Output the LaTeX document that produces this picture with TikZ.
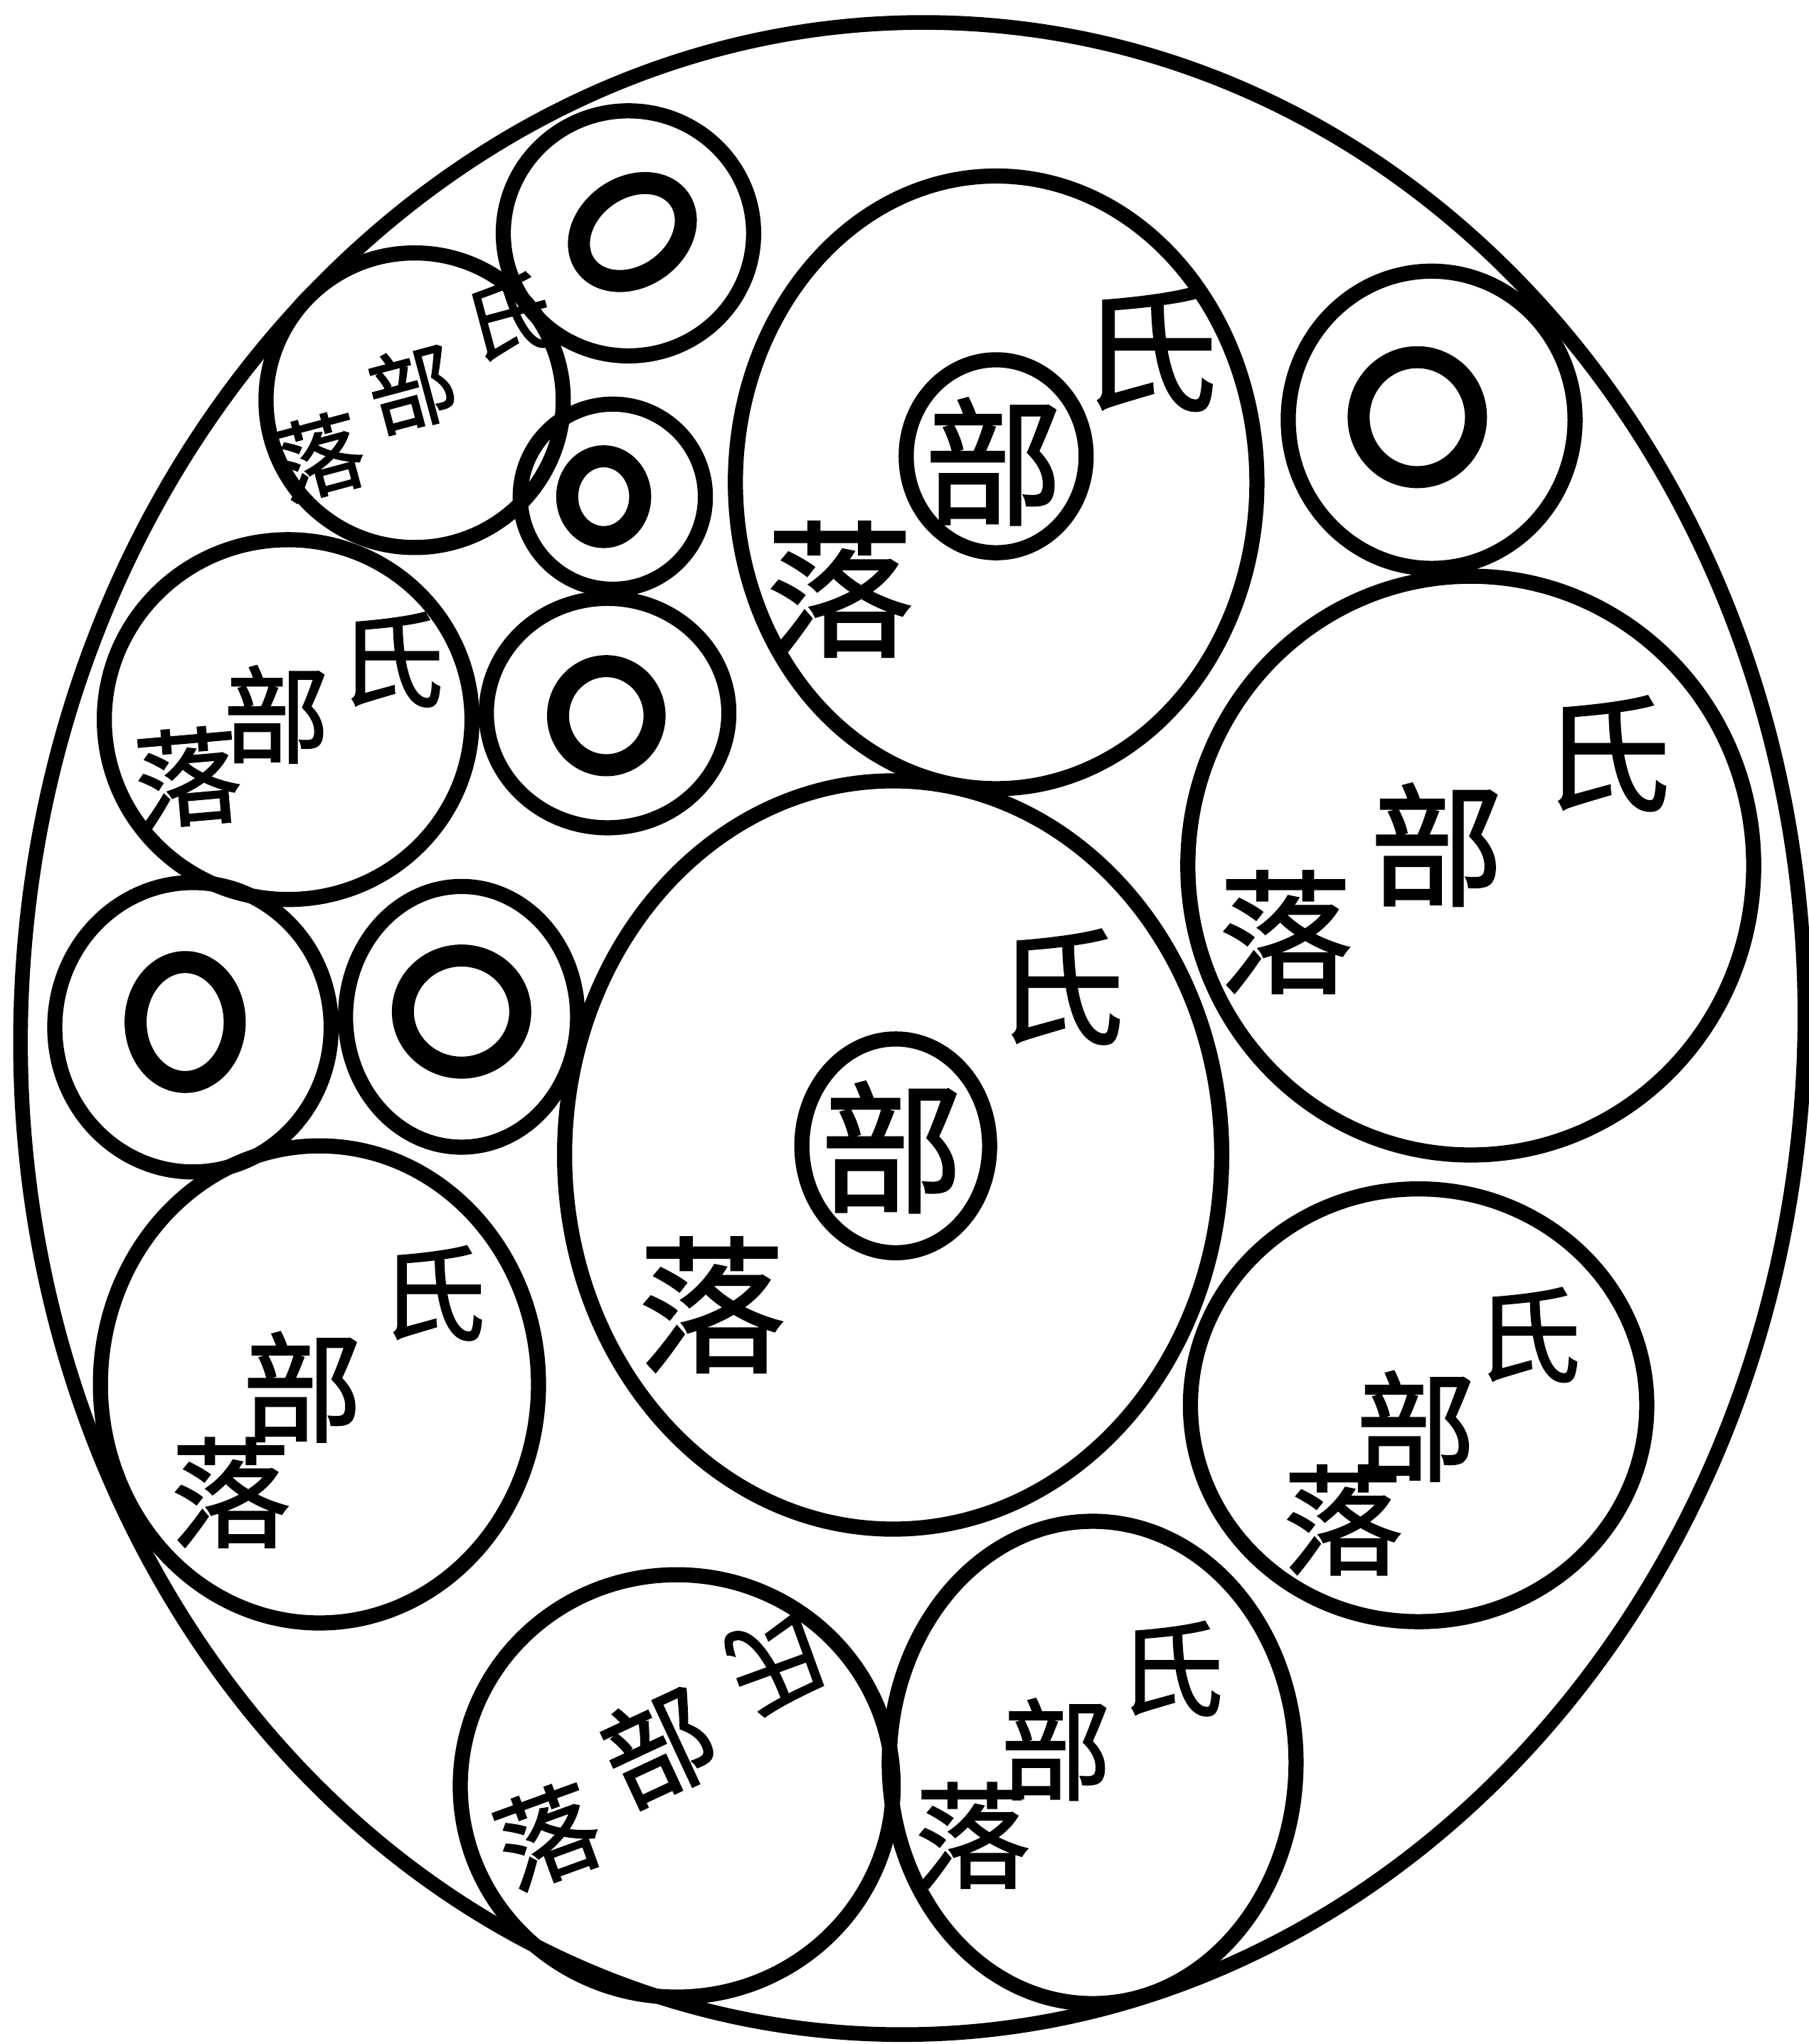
\documentclass[tikz,border=0pt]{standalone}
\usepackage{fontspec}
\newfontfamily\cjk[FakeBold=1.6]{Noto Sans CJK SC}
\usetikzlibrary{positioning}

\begin{document}
\begin{tikzpicture}[x=0.01cm, y=-0.01cm,
  every node/.style={inner sep=0pt},
  shell/.style={line width=3.2pt},
  ring/.style={line width=3.3pt},
  hole/.style={line width=4.8pt},
  zi/.style={font=\cjk\fontsize{#1pt}{#1pt}\selectfont}]

  % Page (reference proportions)
  \useasboundingbox (0,0) rectangle (1387,1568);
  \fill[white] (0,0) rectangle (1387,1568);

  % Outer boundary of the whole
  \coordinate (whole) at (700,789);
  \draw[shell, rotate around={-3:(whole)}] (whole) ellipse [x radius=684, y radius=772];

  % Empty rings (ring with a small hole)
  \coordinate (ra) at (482,179);
  \draw[ring] (ra) ellipse [x radius=96, y radius=94];
  \draw[hole, rotate around={35:(485,178)}] (485,178) ellipse [x radius=44, y radius=34];

  \coordinate (rc) at (470,381);
  \draw[ring] (rc) ellipse [x radius=71, y radius=71];
  \draw[hole] (463,381) ellipse [x radius=28, y radius=31];

  \coordinate (rd) at (466,547);
  \draw[ring] (rd) ellipse [x radius=93, y radius=88];
  \draw[hole] (465,549) ellipse [x radius=37, y radius=38];

  \coordinate (rh) at (1098,322);
  \draw[ring] (rh) ellipse [x radius=110, y radius=114];
  \draw[hole] (1087,320) ellipse [x radius=45, y radius=46];

  \coordinate (rj) at (148,788);
  \draw[ring] (rj) ellipse [x radius=106, y radius=111];
  \draw[hole] (142,784) ellipse [x radius=38, y radius=46];

  \coordinate (rk) at (354,780);
  \draw[ring] (rk) ellipse [x radius=89, y radius=100];
  \draw[hole] (354,776) ellipse [x radius=45, y radius=43];

  % Tribe circles
  \coordinate (tb) at (318,307);
  \draw[ring] (tb) ellipse [x radius=114, y radius=113];
  \node[zi=19, rotate=15] (tb-shi) at (390,243) {氏};
  \node[zi=19, rotate=15] (tb-bu) at (316,298) {部};
  \node[zi=19, rotate=15] (tb-luo) at (245,350) {落};

  \coordinate (te) at (221,552);
  \draw[ring] (te) ellipse [x radius=141, y radius=138];
  \node[zi=23] (te-shi) at (300,506) {氏};
  \node[zi=23] (te-bu) at (212,548) {部};
  \node[zi=23, rotate=5] (te-luo) at (144,596) {落};

  \coordinate (tf) at (764,370);
  \draw[ring] (tf) ellipse [x radius=200, y radius=235];
  \node[zi=30] (tf-shi) at (881,268) {氏};
  \node[zi=30] (tf-bu) at (762,354) {部};
  \draw[ring] (764,350) ellipse [x radius=69, y radius=74];
  \node[zi=32] (tf-luo) at (644,452) {落};

  \coordinate (tg) at (685,886);
  \draw[ring] (tg) ellipse [x radius=252, y radius=287];
  \node[zi=28] (tg-shi) at (813,757) {氏};
  \node[zi=31] (tg-bu) at (684,880) {部};
  \draw[ring] (687,879) ellipse [x radius=72, y radius=82];
  \node[zi=32] (tg-luo) at (546,1001) {落};

  \coordinate (ti) at (1128,664);
  \draw[ring] (ti) ellipse [x radius=217, y radius=222];
  \node[zi=28] (ti-shi) at (1232,578) {氏};
  \node[zi=29] (ti-bu) at (1102,648) {部};
  \node[zi=29] (ti-luo) at (986,715) {落};

  \coordinate (tk) at (245,1062);
  \draw[ring] (tk) ellipse [x radius=168, y radius=183];
  \node[zi=23] (tk-shi) at (332,992) {氏};
  \node[zi=26] (tk-bu) at (232,1064) {部};
  \node[zi=26] (tk-luo) at (177,1145) {落};

  \coordinate (tl) at (1088,1078);
  \draw[ring] (tl) ellipse [x radius=175, y radius=166];
  \node[zi=23] (tl-shi) at (1172,1024) {氏};
  \node[zi=26] (tl-bu) at (1086,1094) {部};
  \node[zi=26] (tl-luo) at (1030,1166) {落};

  \coordinate (tm) at (519,1370);
  \draw[ring] (tm) ellipse [x radius=166, y radius=162];
  \node[zi=22, rotate=200] (tm-shi) at (598,1276) {氏};
  \node[zi=24, rotate=25] (tm-bu) at (505,1340) {部};
  \node[zi=22, rotate=20] (tm-luo) at (420,1408) {落};

  \coordinate (tn) at (838,1352);
  \draw[ring] (tn) ellipse [x radius=156, y radius=185];
  \node[zi=23] (tn-shi) at (898,1280) {氏};
  \node[zi=24] (tn-bu) at (810,1342) {部};
  \node[zi=25] (tn-luo) at (746,1408) {落};
\end{tikzpicture}
\end{document}
